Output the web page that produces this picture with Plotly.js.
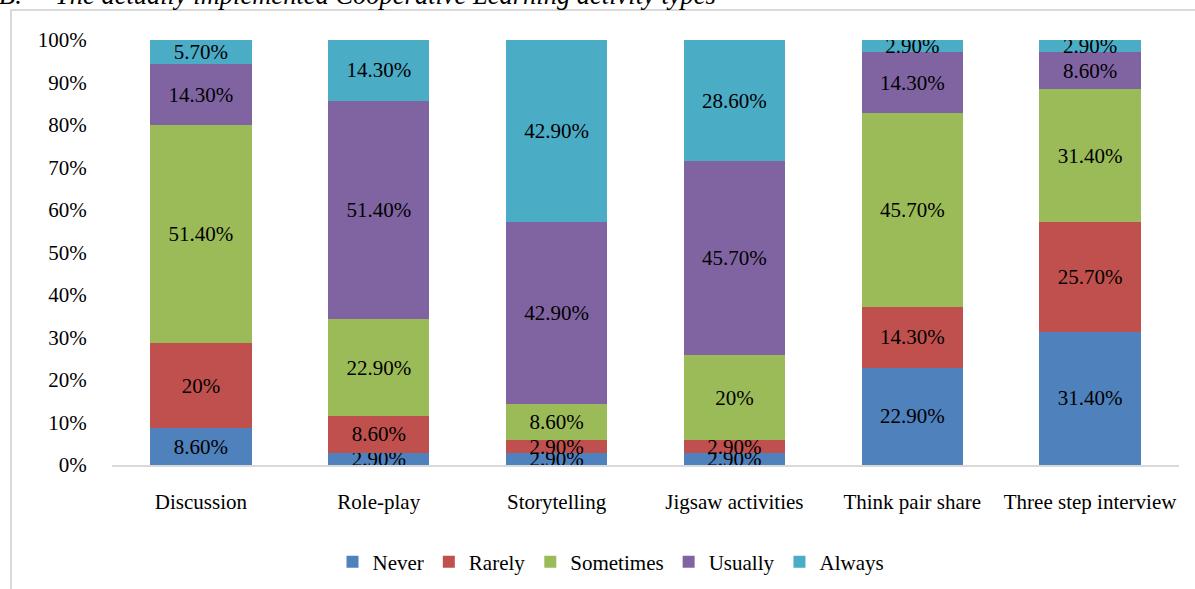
<!DOCTYPE html>
<html>
<head>
<meta charset="utf-8">
<script src="https://cdn.plot.ly/plotly-3.0.1.min.js"></script>
<style>html,body{margin:0;padding:0;background:#fff;}#chart{width:1195px;height:589px;}</style>
</head>
<body>
<div id="chart"></div>
<script>
const categories = ["Discussion", "Role-play", "Storytelling", "Jigsaw activities", "Think pair share", "Three step interview"];
const never     = [8.6, 2.9, 2.9, 2.9, 22.9, 31.4];
const rarely    = [20, 8.6, 2.9, 2.9, 14.3, 25.7];
const sometimes = [51.4, 22.9, 8.6, 20, 45.7, 31.4];
const usually   = [14.3, 51.4, 42.9, 45.7, 14.3, 8.6];
const always    = [5.7, 14.3, 42.9, 28.6, 2.9, 2.9];
const seriesNames = ["Never", "Rarely", "Sometimes", "Usually", "Always"];
const yTicks = [0, 10, 20, 30, 40, 50, 60, 70, 80, 90, 100];
const titleLabel = "B.";
const titleText = "The actually implemented Cooperative Learning activity types";

const colors = ["#4F81BD", "#C0504D", "#9BBB59", "#8064A2", "#4BACC6"];
const FONT = "Liberation Serif, Times New Roman, serif";
const FS = 21;
const fmt = v => (Number.isInteger(v) ? v + "%" : v.toFixed(2) + "%");

const allSeries = [never, rarely, sometimes, usually, always];
const traces = allSeries.map((vals, i) => ({
  type: "bar",
  name: seriesNames[i],
  x: categories,
  y: vals,
  text: vals.map(fmt),
  textposition: "inside",
  insidetextanchor: "middle",
  constraintext: "none",
  textangle: 0,
  textfont: {family: FONT, size: FS, color: "#000"},
  marker: {color: colors[i], line: {width: 0}},
  hoverinfo: "none"
}));

const W = 1195, H = 589;
const L = 112, R = 1179, T = 40, B = 465;
const px2x = p => (p - L) / (R - L);
const px2y = p => (B - p) / (B - T);

const layout = {
  width: W, height: H,
  margin: {l: L, r: W - R, t: T, b: H - B, pad: 0, autoexpand: false},
  barmode: "stack",
  barnorm: "percent",
  bargap: 0.43,
  paper_bgcolor: "#fff",
  plot_bgcolor: "#fff",
  font: {family: FONT, size: FS, color: "#000"},
  showlegend: true,
  legend: {
    orientation: "h",
    xref: "container", yref: "container",
    x: 611 / W, xanchor: "center",
    y: 1 - 562 / H, yanchor: "middle",
    font: {family: FONT, size: FS, color: "#000"},
    itemwidth: 30,
    traceorder: "normal"
  },
  xaxis: {
    type: "category",
    showline: true, linecolor: "#D9D9D9", linewidth: 2,
    showgrid: false, zeroline: false,
    ticks: "outside", ticklen: 17, tickcolor: "rgba(0,0,0,0)",
    tickfont: {family: FONT, size: FS, color: "#000"},
    fixedrange: true
  },
  yaxis: {
    range: [0, 100],
    tickvals: yTicks,
    ticktext: yTicks.map(v => v + "%"),
    showline: false, showgrid: false, zeroline: false,
    ticks: "outside", ticklen: 20, tickcolor: "rgba(0,0,0,0)",
    tickfont: {family: FONT, size: FS, color: "#000"},
    fixedrange: true
  },
  shapes: [{
    type: "rect", xref: "paper", yref: "paper",
    x0: px2x(11), x1: px2x(1215), y0: px2y(10), y1: px2y(620),
    line: {color: "#D9D9D9", width: 2}, fillcolor: "rgba(0,0,0,0)", layer: "below"
  }],
  annotations: [{
    xref: "paper", yref: "paper",
    x: px2x(-3), xanchor: "left",
    y: px2y(12), yanchor: "bottom",
    text: "<i>" + titleLabel + "</i>",
    showarrow: false,
    font: {family: FONT, size: 26.5, color: "#000"}
  }, {
    xref: "paper", yref: "paper",
    x: px2x(53), xanchor: "left",
    y: px2y(12), yanchor: "bottom",
    text: "<i>" + titleText + "</i>",
    showarrow: false,
    font: {family: FONT, size: 26.5, color: "#000"}
  }]
};

Plotly.newPlot("chart", traces, layout, {displayModeBar: false, staticPlot: true});
</script>
</body>
</html>
